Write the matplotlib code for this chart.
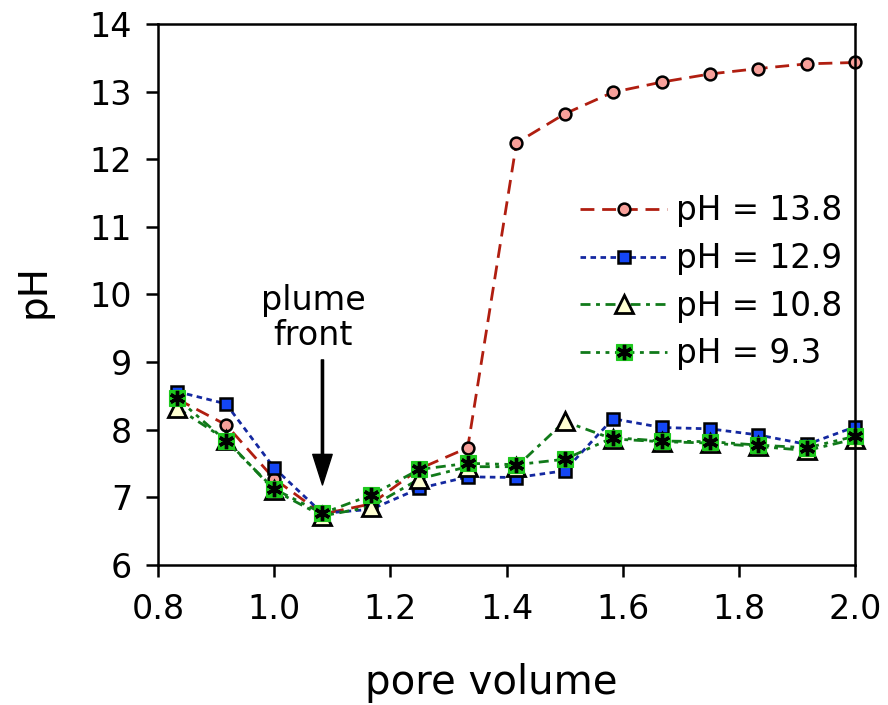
import matplotlib
matplotlib.use('Agg')
from matplotlib import pyplot as plt
from matplotlib.ticker import FormatStrFormatter
from matplotlib.legend_handler import HandlerTuple

# pore volumes sampled
pore_volume = [0.833, 0.917, 1.0, 1.083, 1.167, 1.25, 1.333, 1.417, 1.5,
               1.583, 1.667, 1.75, 1.833, 1.917, 2.0]

# pH of effluent for each plume pH
ph_138 = [8.45, 8.07, 7.27, 6.75, 6.90, 7.42, 7.73, 12.24, 12.67, 12.99,
          13.14, 13.26, 13.34, 13.41, 13.43]
ph_129 = [8.56, 8.38, 7.43, 6.76, 6.82, 7.13, 7.30, 7.29, 7.39, 8.16,
          8.03, 8.01, 7.92, 7.78, 8.04]
ph_108 = [8.32, 7.85, 7.10, 6.72, 6.86, 7.27, 7.45, 7.45, 8.12, 7.86,
          7.82, 7.80, 7.75, 7.69, 7.86]
ph_93 = [8.46, 7.83, 7.12, 6.76, 7.03, 7.41, 7.50, 7.48, 7.56, 7.88,
         7.83, 7.82, 7.77, 7.73, 7.90]

labels = ['pH = 13.8', 'pH = 12.9', 'pH = 10.8', 'pH = 9.3']

plt.rcParams['font.family'] = ['DejaVu Sans']
fs = 24

fig = plt.figure(figsize=(8.88, 7.05), dpi=100)
ax = fig.add_axes([0.178, 0.199, 0.785, 0.767])

lw = 2.0
l1, = ax.plot(pore_volume, ph_138, color='#B01E10', lw=lw, dashes=(5, 2.8),
              marker='o', ms=8.5, mfc='#F7A09A', mec='black', mew=1.8, clip_on=False)
l2, = ax.plot(pore_volume, ph_129, color='#1428A0', lw=lw, dashes=(2, 1.6),
              marker='s', ms=8.5, mfc='#1446F5', mec='black', mew=1.8, clip_on=False)
l3, = ax.plot(pore_volume, ph_108, color='#117A1A', lw=lw, dashes=(3.6, 2, 1.4, 2),
              marker='^', ms=12.5, mfc='#FFFFD2', mec='black', mew=2, clip_on=False)
l4, = ax.plot(pore_volume, ph_93, color='#117A1A', lw=lw, dashes=(3.6, 2, 1.4, 2, 1.4, 2),
              marker='s', ms=11.5, mfc='#1EC81E', mec='#1EC81E', mew=0.8, clip_on=False)
l4b, = ax.plot(pore_volume, ph_93, ls='none', marker=(6, 2, 0), ms=11,
               mec='black', mew=2.4, clip_on=False)

ax.annotate('', xy=(1.083, 7.18), xytext=(1.083, 9.03),
            arrowprops=dict(facecolor='black', edgecolor='black', width=1.6,
                            headwidth=14, headlength=22, shrink=0))
ax.text(1.067, 9.65, 'plume\nfront', ha='center', va='center', fontsize=fs,
        linespacing=1.1)

ax.set_xlim(0.8, 2.0)
ax.set_ylim(6, 14)
ax.set_xticks([0.8, 1.0, 1.2, 1.4, 1.6, 1.8, 2.0])
ax.set_yticks(range(6, 15))
ax.xaxis.set_major_formatter(FormatStrFormatter('%.1f'))
ax.tick_params(direction='out', length=8.5, width=1.8, labelsize=fs, top=False, right=False)
ax.tick_params(axis='y', pad=10)
ax.tick_params(axis='x', pad=12)
for s in ax.spines.values():
    s.set_linewidth(1.8)

ax.set_xlabel('pore volume', fontsize=29)
ax.set_ylabel('pH', fontsize=28)
ax.xaxis.set_label_coords(0.478, -0.182)
ax.yaxis.set_label_coords(-0.151, 0.506)

ax.legend([l1, l2, l3, (l4, l4b)], labels, loc='center left',
          bbox_to_anchor=(0.605, 0.522), frameon=False, fontsize=23.5,
          handlelength=2.68, handletextpad=0.27, labelspacing=0.45,
          numpoints=1, borderpad=0, borderaxespad=0,
          handler_map={tuple: HandlerTuple(ndivide=1)})

plt.savefig('out.png', dpi=100)
